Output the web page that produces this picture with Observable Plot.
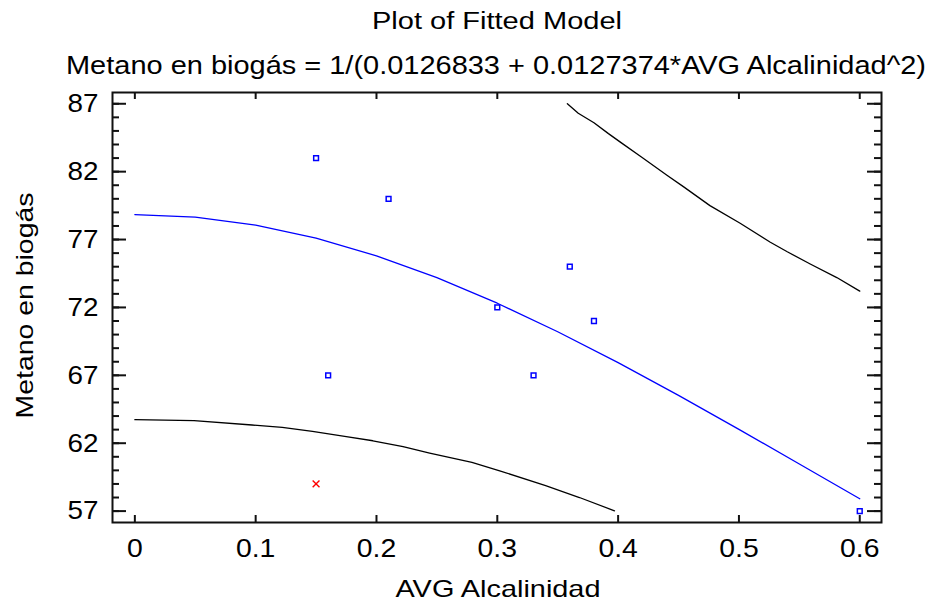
<!DOCTYPE html>
<html>
<head>
<meta charset="utf-8">
<script src="https://cdn.jsdelivr.net/npm/d3@7"></script>
<script src="https://cdn.jsdelivr.net/npm/@observablehq/plot@0.6"></script>
<style>
  html, body { margin: 0; padding: 0; background: #fff; }
</style>
</head>
<body>
<div id="chart"></div>
<script>
// ---- Data ----
const obsX = [0.15, 0.21, 0.36, 0.30, 0.38, 0.16, 0.33, 0.60];
const obsY = [83, 80, 75, 72, 71, 67, 67, 57];

const exclX = [0.15];
const exclY = [59];

const fitX = [0, 0.05, 0.10, 0.15, 0.20, 0.25, 0.30, 0.35, 0.40, 0.45, 0.50, 0.55, 0.60];
const fitY = [78.84, 78.65, 78.06, 77.10, 75.80, 74.19, 72.31, 70.21, 67.93, 65.52, 63.02, 60.47, 57.91];

const upperX = [0.358, 0.367, 0.380, 0.392, 0.403, 0.419, 0.441, 0.454, 0.476, 0.501, 0.526, 0.540, 0.559, 0.581, 0.600];
const upperY = [87.0, 86.3, 85.6, 84.8, 84.1, 83.1, 81.7, 80.9, 79.5, 78.2, 76.8, 76.1, 75.2, 74.2, 73.2];

const lowerX = [0.000, 0.049, 0.097, 0.122, 0.147, 0.175, 0.197, 0.222, 0.244, 0.279, 0.302, 0.340, 0.368, 0.397];
const lowerY = [63.73, 63.66, 63.34, 63.16, 62.87, 62.48, 62.18, 61.74, 61.27, 60.58, 59.97, 58.87, 58.00, 57.02];

const xTicks = [0, 0.1, 0.2, 0.3, 0.4, 0.5, 0.6];
const xTickLabels = ["0", "0.1", "0.2", "0.3", "0.4", "0.5", "0.6"];
const yTicks = [57, 62, 67, 72, 77, 82, 87];
const yTickLabels = ["57", "62", "67", "72", "77", "82", "87"];
const yMinorTicks = d3.range(57, 88, 1);

const titleText = "Plot of Fitted Model";
const subtitleText = "Metano en biogás = 1/(0.0126833 + 0.0127374*AVG Alcalinidad^2)";
const xLabelText = "AVG Alcalinidad";
const yLabelText = "Metano en biogás";

// ---- Build tables ----
const obs = obsX.map((x, i) => ({x, y: obsY[i]}));
const excl = exclX.map((x, i) => ({x, y: exclY[i]}));
const fit = fitX.map((x, i) => ({x, y: fitY[i]}));
const upper = upperX.map((x, i) => ({x, y: upperY[i]}));
const lower = lowerX.map((x, i) => ({x, y: lowerY[i]}));

const W = 929, H = 604;
const mL = 112, mR = 48, mT = 92, mB = 82;
const fw = W - mL - mR, fh = H - mT - mB;
const ink = "#111";

const chart = Plot.plot({
  width: W,
  height: H,
  marginLeft: mL,
  marginRight: mR,
  marginTop: mT,
  marginBottom: mB,
  style: {fontFamily: "'Liberation Sans', Arial, sans-serif", fontSize: "26px", background: "#fff", color: "#000"},
  x: {domain: [-0.0185, 0.618], axis: null},
  y: {domain: [56.16, 87.83], axis: null},
  marks: [
    // curves
    Plot.line(upper, {x: "x", y: "y", stroke: "#000", strokeWidth: 1.3}),
    Plot.line(lower, {x: "x", y: "y", stroke: "#000", strokeWidth: 1.3}),
    Plot.line(fit, {x: "x", y: "y", stroke: "#0000ff", strokeWidth: 1.3}),
    // points
    Plot.dot(obs, {x: "x", y: "y", symbol: "square", r: 2.7, stroke: "#0000ff", strokeWidth: 1.5, fill: "#fff"}),
    Plot.dot(excl, {x: "x", y: "y", symbol: "times", r: 3.2, stroke: "#ff0000", strokeWidth: 1.4}),
    // frame
    Plot.frame({stroke: ink, strokeWidth: 2}),
    // inward ticks: left & right
    Plot.tickY(yMinorTicks, {y: d => d, insetRight: fw - 7, stroke: ink, strokeWidth: 2}),
    Plot.tickY(yTicks, {y: d => d, insetRight: fw - 14, stroke: ink, strokeWidth: 2}),
    Plot.tickY(yMinorTicks, {y: d => d, insetLeft: fw - 7, stroke: ink, strokeWidth: 2}),
    Plot.tickY(yTicks, {y: d => d, insetLeft: fw - 14, stroke: ink, strokeWidth: 2}),
    // inward ticks: bottom & top
    Plot.tickX(xTicks, {x: d => d, insetTop: fh - 7, stroke: ink, strokeWidth: 2}),
    Plot.tickX(xTicks, {x: d => d, insetBottom: fh - 7, stroke: ink, strokeWidth: 2}),
    // tick labels
    Plot.axisX(xTicks, {tickSize: 0, tickPadding: 16, fontSize: 26.5, label: null,
      tickFormat: d => xTickLabels[xTicks.indexOf(d)]}),
    Plot.axisY(yTicks, {tickSize: 0, tickPadding: 14, fontSize: 26, label: null,
      tickFormat: d => yTickLabels[yTicks.indexOf(d)]}),
    // titles and axis labels
    Plot.text([titleText], {text: d => d, frameAnchor: "top", lineAnchor: "top", dy: -80, fontSize: 23.5, ariaDescription: "title"}),
    Plot.text([subtitleText], {text: d => d, frameAnchor: "top", lineAnchor: "top", dy: -36, dx: -1, fontSize: 25, ariaDescription: "subtitle"}),
    Plot.text([xLabelText], {text: d => d, frameAnchor: "bottom", lineAnchor: "top", dy: 57, dx: 1, fontSize: 24, ariaDescription: "xlabel"}),
    Plot.text([yLabelText], {text: d => d, frameAnchor: "bottom-left", textAnchor: "start", lineAnchor: "top", rotate: -90, dx: -97, dy: -104, fontSize: 24.5, ariaDescription: "ylabel"})
  ]
});

document.getElementById("chart").appendChild(chart);

// stretch texts horizontally to match the reference's wide lettering
function stretchTexts(selector, lenFn) {
  chart.querySelectorAll(selector).forEach(t => {
    const len = lenFn(t);
    t.setAttribute("textLength", len);
    t.setAttribute("lengthAdjust", "spacingAndGlyphs");
  });
}
const fixedLen = {title: 250, subtitle: 860, xlabel: 205, ylabel: 226};
for (const [k, len] of Object.entries(fixedLen)) {
  stretchTexts(`g[aria-description="${k}"] text`, () => len);
}
stretchTexts(`g[aria-label="x-axis tick label"] text, g[aria-label="y-axis tick label"] text`,
  t => t.getComputedTextLength() * 1.07);
</script>
</body>
</html>
